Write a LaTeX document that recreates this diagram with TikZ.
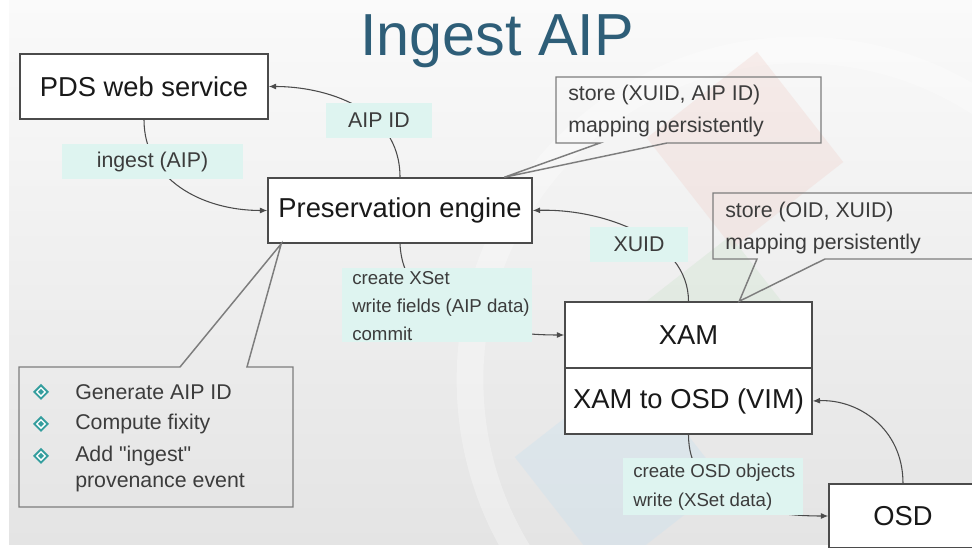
\documentclass[tikz,border=0pt]{standalone}
\usepackage{fontspec}
\setmainfont{Liberation Sans}[Ligatures=TeXOff]
\usetikzlibrary{calc,arrows.meta}
\definecolor{titlec}{RGB}{46,94,120}
\definecolor{lblfill}{RGB}{222,244,240}
\definecolor{linec}{RGB}{75,75,75}
\definecolor{callc}{RGB}{125,125,125}
\definecolor{tealb}{RGB}{52,158,158}
\definecolor{txt}{RGB}{25,25,25}
\definecolor{txtb}{RGB}{60,60,60}
\definecolor{bgtop}{RGB}{250,250,250}
\definecolor{bgbot}{RGB}{228,228,228}
\definecolor{wpink}{RGB}{240,205,198}
\definecolor{wgreen}{RGB}{205,228,205}
\definecolor{wblue}{RGB}{200,225,240}
\begin{document}
\begin{tikzpicture}[x=0.75pt,y=-0.75pt,
  box/.style={draw=linec, line width=1.1pt, fill=white, inner sep=0pt, text=txt,
    font=\fontsize{20.5}{24}\selectfont},
  lbl/.style={fill=lblfill, inner sep=0pt, text=txtb, font=\fontsize{16}{24}\selectfont},
  conn/.style={draw=linec, line width=0.8pt, -{Latex[length=5.5pt,width=4.5pt]}},
  callout/.style={draw=callc, line width=1.1pt, line join=miter},
  ctext/.style={inner sep=0pt, text=txtb, font=\fontsize{16}{24}\selectfont, align=left, anchor=west}
]
\useasboundingbox (0,0) rectangle (972,548);
\clip (0,0) rectangle (972,548);
% background
\fill[white] (0,0) rectangle (972,548);
\shade[top color=bgtop, bottom color=bgbot] (9,0) rectangle (972,545);
\begin{scope}
\clip (9,0) rectangle (972,545);
\draw[white, opacity=0.3, line width=20pt] (800,380) circle [radius=330];
\fill[wpink, opacity=0.3, rotate around={38:(745,150)}] (675,80) rectangle (815,220);
\fill[wgreen, opacity=0.35, rotate around={38:(720,320)}] (660,260) rectangle (780,380);
\fill[wblue, opacity=0.35, rotate around={38:(620,470)}] (545,395) rectangle (695,545);
\end{scope}

% title
\node[anchor=base, text=titlec, font=\fontsize{44.5}{50}\selectfont, inner sep=0pt] (title) at (497,56) {Ingest AIP};

% main boxes
\node[box, minimum width=186pt, minimum height=48.75pt] (PDS) at (144,86.5) {PDS web service};
\node[box, minimum width=198pt, minimum height=48.75pt] (PE) at (400,210.5) {Preservation engine};
\node[box, minimum width=185.25pt, minimum height=49.5pt] (XAM) at (688.5,335) {XAM};
\node[box, minimum width=185.25pt, minimum height=49.5pt] (VIM) at (688.5,401) {XAM to OSD (VIM)};
\node[box, minimum width=111pt, minimum height=48pt] (OSD) at (903,516) {OSD};

% connectors
\draw[conn] (PE.north) .. controls ($(PE.north)+(0,-70)$) and ($(PDS.east)+(55,0)$) .. (PDS.east);
\draw[conn] (PDS.south) .. controls ($(PDS.south)+(0,60)$) and ($(PE.west)+(-65,0)$) .. (PE.west);
\draw[conn] (XAM.north) .. controls ($(XAM.north)+(0,-62)$) and ($(PE.east)+(70,-2)$) .. (PE.east);
\draw[conn] (PE.south) .. controls ($(PE.south)+(3,70)$) and ($(XAM.west)+(-80,0)$) .. (XAM.west);
\draw[conn] (VIM.south) .. controls ($(VIM.south)+(0,60)$) and ($(OSD.west)+(-80,0)$) .. (OSD.west);
\draw[conn] (OSD.north) .. controls ($(OSD.north)+(0,-55)$) and ($(VIM.east)+(45,-2)$) .. (VIM.east);

% connector labels
\node[lbl, minimum width=79.5pt, minimum height=26.25pt] (laip) at (379,120.5) {AIP ID};
\node[lbl, minimum width=135.75pt, minimum height=26.25pt] (lingest) at (152.5,161.5) {ingest (AIP)};
\node[lbl, minimum width=73.5pt, minimum height=26.25pt] (lxuid) at (639,244.5) {XUID};
\node[lbl, minimum width=142.5pt, minimum height=55.5pt] (lxset) at (437,305) {};
\node[ctext, font=\fontsize{14}{21}\selectfont] (lxsettext) at (352,306)
  {create XSet\\write fields (AIP data)\\commit};
\node[lbl, minimum width=135pt, minimum height=42.75pt] (losd) at (713,486.5) {};
\node[ctext, font=\fontsize{14}{21.75}\selectfont] (losdtext) at (633,487.5)
  {create OSD objects\\write (XSet data)};

% callout 1
\coordinate (aone) at ($(PE.north west)+(237,0)$);
\draw[callout] (556,77) -- (821,77) -- (821,143) -- (667,143) -- (aone) -- (600,143) -- (556,143) -- cycle;
\node[ctext] (stone) at (568,111) {store (XUID, AIP ID)\\mapping persistently};

% callout 2
\coordinate (atwo) at ($(XAM.north west)+(175,0)$);
\draw[callout] (713,193) -- (990,193) -- (990,259) -- (825,259) -- (atwo) -- (757,259) -- (713,259) -- cycle;
\node[ctext] (sttwo) at (725,227.5) {store (OID, XUID)\\mapping persistently};

% callout 3 (bullets)
\coordinate (athree) at ($(PE.south west)+(14,0)$);
\draw[callout] (19,367) -- (180,367) -- (athree) -- (247,367) -- (293,367) -- (293,507) -- (19,507) -- cycle;
\foreach \yy in {392,424,456}{
  \fill[tealb] (33,\yy) -- (41,\yy-8) -- (49,\yy) -- (41,\yy+8) -- cycle;
  \fill[white] (35.8,\yy) -- (41,\yy-5.2) -- (46.2,\yy) -- (41,\yy+5.2) -- cycle;
  \fill[tealb] (38,\yy) -- (41,\yy-3) -- (44,\yy) -- (41,\yy+3) -- cycle;
}
\node[ctext] (bone) at (75,392) {Generate AIP ID};
\node[ctext] (btwo) at (75,424) {Compute fixity};
\node[ctext, font=\fontsize{16}{19.5}\selectfont] (bthree) at (75,469) {Add "ingest"\\provenance event};
\end{tikzpicture}
\end{document}
